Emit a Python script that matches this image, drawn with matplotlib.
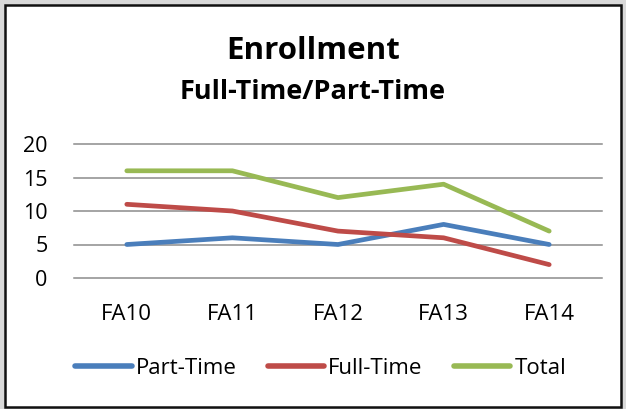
import matplotlib
matplotlib.use("Agg")
import matplotlib.pyplot as plt
from matplotlib.patches import Rectangle

# data
terms = ["FA10", "FA11", "FA12", "FA13", "FA14"]
part_time = [5, 6, 5, 8, 5]
full_time = [11, 10, 7, 6, 2]
total = [16, 16, 12, 14, 7]
yticks = [0, 5, 10, 15, 20]

plt.rcParams['font.family'] = ['Open Sans', 'DejaVu Sans']

W, H = 626, 409
fig = plt.figure(figsize=(W / 100, H / 100), dpi=100)
fig.patch.set_facecolor("#d9d9d9")

# chart frame (white area with dark border)
fig.patches.append(Rectangle((5 / W, 2 / H), 616 / W, 402 / H, transform=fig.transFigure,
                             facecolor="white", edgecolor="#111111", linewidth=1.8, zorder=0))

ax = fig.add_axes([74 / W, 1 - 278 / H, 528 / W, 134 / H])
ax.set_zorder(2)
ax.set_facecolor("none")
x = range(len(terms))
ax.plot(x, part_time, color="#4a7ebb", lw=3.4, solid_capstyle="round", solid_joinstyle="round", label="Part-Time")
ax.plot(x, full_time, color="#be4b48", lw=3.4, solid_capstyle="round", solid_joinstyle="round", label="Full-Time")
ax.plot(x, total, color="#98b954", lw=3.4, solid_capstyle="round", solid_joinstyle="round", label="Total")

ax.set_xlim(-0.5, len(terms) - 0.5)
ax.set_ylim(0, 20)
ax.set_yticks(yticks)
ax.set_xticks(list(x))
ax.set_xticklabels(terms)
for s in ax.spines.values():
    s.set_visible(False)
# pads are in points (px * 0.72)
ax.tick_params(axis="y", length=0, pad=19, labelsize=15.5)
ax.tick_params(axis="x", length=0, pad=19, labelsize=16)
for v in yticks:
    ax.axhline(v, color="#8c8c8c", lw=1.1, zorder=0)
for ln in ax.lines:
    ln.set_clip_on(False)

fig.text(0.5, 1 - 51 / H, "Enrollment", ha="center", va="center", fontsize=22.5, fontweight="bold", zorder=3)
fig.text(0.5, 1 - 92 / H, "Full-Time/Part-Time", ha="center", va="center", fontsize=19.5, fontweight="bold", zorder=3)

leg = fig.legend(loc="center", bbox_to_anchor=(320.5 / W, 1 - 368 / H), ncol=3, frameon=False,
                 fontsize=16, handlelength=2.55, handletextpad=0.18, columnspacing=1.4)
leg.set_zorder(3)
for h in leg.get_lines():
    h.set_linewidth(4)
    h.set_solid_capstyle("round")

fig.savefig("out.png", dpi=100, facecolor=fig.get_facecolor())
